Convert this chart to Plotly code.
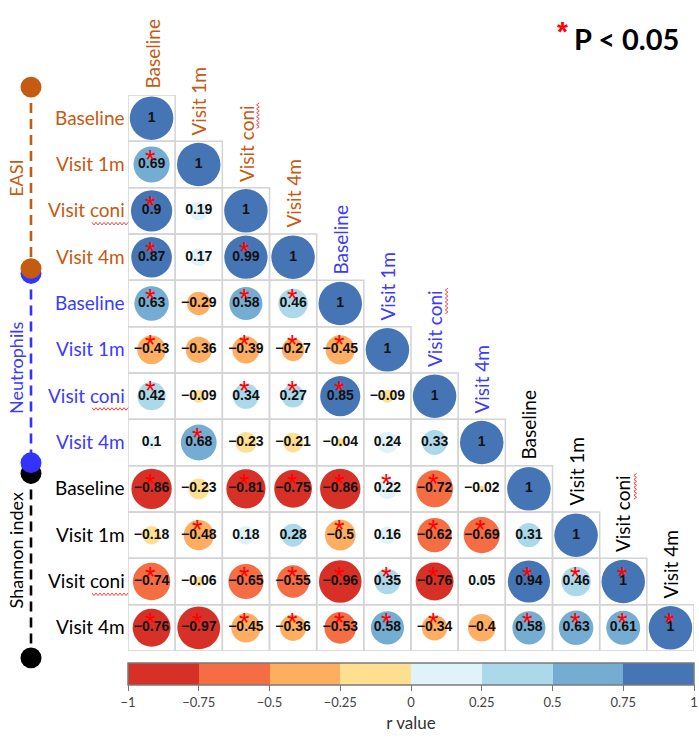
import plotly.graph_objects as go

# Variables, in row/column order of the matrix
var_labels = ["Baseline", "Visit 1m", "Visit coni", "Visit 4m"] * 3
var_group = [0] * 4 + [1] * 4 + [2] * 4
group_names = ["EASI", "Neutrophils", "Shannon index"]
group_colors = ["#C55A11", "#3B3BFF", "#000000"]
group_dot_colors = ["#C55A11", "#3333FF", "#000000"]

# Lower-triangle Pearson r values (row i holds columns 0..i)
r_rows = [
    [1],
    [0.69, 1],
    [0.9, 0.19, 1],
    [0.87, 0.17, 0.99, 1],
    [0.63, -0.29, 0.58, 0.46, 1],
    [-0.43, -0.36, -0.39, -0.27, -0.45, 1],
    [0.42, -0.09, 0.34, 0.27, 0.85, -0.09, 1],
    [0.1, 0.68, -0.23, -0.21, -0.04, 0.24, 0.33, 1],
    [-0.86, -0.23, -0.81, -0.752, -0.86, 0.22, -0.72, -0.02, 1],
    [-0.18, -0.48, 0.18, 0.28, -0.497, 0.16, -0.62, -0.69, 0.31, 1],
    [-0.74, -0.06, -0.65, -0.55, -0.96, 0.35, -0.76, 0.05, 0.94, 0.46, 1],
    [-0.76, -0.97, -0.45, -0.36, -0.53, 0.58, -0.34, -0.4, 0.58, 0.63, 0.61, 1],
]

# 1 = P < 0.05
sig_rows = [
    [0],
    [1, 0],
    [1, 0, 0],
    [1, 0, 1, 0],
    [1, 0, 1, 1, 0],
    [1, 0, 1, 1, 1, 0],
    [1, 0, 1, 1, 1, 0, 0],
    [0, 1, 0, 0, 0, 0, 0, 0],
    [1, 0, 1, 1, 1, 1, 1, 0, 0],
    [0, 1, 0, 0, 1, 0, 1, 1, 0, 0],
    [1, 0, 1, 1, 1, 1, 1, 0, 1, 1, 1],
    [1, 1, 1, 1, 1, 1, 1, 0, 1, 1, 1, 1],
]

bin_edges = [-1, -0.75, -0.5, -0.25, 0, 0.25, 0.5, 0.75, 1]
bin_colors = ["#D73027", "#F46D43", "#FDAE61", "#FEE090",
              "#E0F3F8", "#ABD9E9", "#74ADD1", "#4575B4"]

N = len(var_labels)
W, H = 699, 738
ML, MR, MT, MB = 128, 5, 95, 79
PW, PH = W - ML - MR, H - MT - MB
CW, CH = PW / N, PH / N


def px(x):
    return (x - ML) / PW


def py(y):
    return (H - MB - y) / PH


def fmt(v):
    s = f"{v:.2f}".rstrip("0").rstrip(".")
    return s.replace("-", "\u2212")


def squiggle(x0, y0, x1, y1, step=2.0, amp=1.3):
    """Small red wavy underline between two pixel points, as an SVG path in paper units."""
    import math
    length = math.hypot(x1 - x0, y1 - y0)
    ux, uy = (x1 - x0) / length, (y1 - y0) / length
    nx, ny = -uy, ux
    n = int(length / step)
    pts = []
    for k in range(n + 1):
        t = k * step
        a = amp if k % 2 else -amp
        pts.append((x0 + ux * t + nx * a, y0 + uy * t + ny * a))
    d = "M" + " L".join(f"{px(a):.5f},{py(b):.5f}" for a, b in pts)
    return dict(type="path", xref="paper", yref="paper", path=d,
                line=dict(color="#FF3B3B", width=1))


# stepped colour scale on [-1, 1]
cscale = []
for k, c in enumerate(bin_colors):
    lo = (bin_edges[k] + 1) / 2
    hi = (bin_edges[k + 1] + 1) / 2
    cscale += [[lo, c], [hi, c]]

xs, ys, vals, txt, sizes = [], [], [], [], []
for i, row in enumerate(r_rows):
    for j, v in enumerate(row):
        xs.append(j)
        ys.append(i)
        vals.append(v)
        txt.append("<b>" + fmt(v) + "</b>")
        sizes.append(43.5 * abs(v) ** 0.5)

fig = go.Figure()

fig.add_trace(go.Scatter(
    x=xs, y=ys, mode="markers",
    marker=dict(size=sizes, color=vals, colorscale=cscale, cmin=-1, cmax=1,
                line=dict(width=0), opacity=1,
                showscale=True,
                colorbar=dict(
                    orientation="h", x=0, xanchor="left", len=1, lenmode="fraction",
                    y=py(671), yanchor="top", thickness=22, xpad=0, ypad=0,
                    outlinewidth=1.5, outlinecolor="#7a7a7a",
                    ticks="outside", ticklen=6, tickwidth=1, tickcolor="#777",
                    tickvals=bin_edges,
                    ticktext=[fmt(v) for v in bin_edges],
                    tickfont=dict(family="Lato", size=13, color="#444"),
                    title=dict(text="r value", side="bottom",
                               font=dict(family="Lato", size=17, color="#333")),
                )),
    hoverinfo="skip", showlegend=False,
))

fig.add_trace(go.Scatter(
    x=xs, y=ys, mode="text", text=txt,
    textfont=dict(family="Liberation Sans, Arial", size=14, color="#111"),
    hoverinfo="skip", showlegend=False,
))

shapes = []
annotations = []

# cell borders of the lower triangle
for i in range(N):
    for j in range(i + 1):
        shapes.append(dict(type="rect", xref="x", yref="y",
                           x0=j - 0.5, x1=j + 0.5, y0=i - 0.5, y1=i + 0.5,
                           line=dict(color="#D4D4D4", width=1.5), layer="below"))

# significance stars
for i, row in enumerate(sig_rows):
    for j, s in enumerate(row):
        if s:
            annotations.append(dict(x=j, y=i, xref="x", yref="y", text="*",
                                    showarrow=False, xshift=-1, yshift=5,
                                    font=dict(family="Liberation Sans, Arial",
                                              size=27, color="#FF0000")))

# row labels (left) and column labels (above the diagonal)
for k, lab in enumerate(var_labels):
    col = group_colors[var_group[k]]
    annotations.append(dict(x=-0.5, y=k, xref="x", yref="y", text=lab,
                            xanchor="right", yanchor="middle", xshift=-1, yshift=1,
                            showarrow=False,
                            font=dict(family="Lato", size=19, color=col)))
    annotations.append(dict(x=k, y=k - 0.5, xref="x", yref="y", text=lab,
                            textangle=-90, xanchor="center", yanchor="bottom",
                            yshift=4, showarrow=False,
                            font=dict(family="Lato", size=19, color=col)))
    if lab.endswith("coni"):
        cy = MT + (k + 0.5) * CH
        shapes.append(squiggle(92, cy + 13, 128, cy + 13))
        cx = ML + (k + 0.5) * CW
        top = MT + k * CH
        shapes.append(squiggle(cx + 12, top - 86, cx + 12, top - 60))

# group brackets on the left
bracket = [(87, 271, 180), (276, 468, 372), (479, 666, 557)]
dot_r = 10.5
bx = 31
for g in [2, 1, 0]:
    y0, y1, yc = bracket[g]
    c = group_dot_colors[g]
    shapes.append(dict(type="line", xref="paper", yref="paper",
                       x0=px(bx), x1=px(bx), y0=py(y0), y1=py(y1),
                       line=dict(color=c, width=2.6, dash="10px,6px")))
    for yy in (y0, y1):
        shapes.append(dict(type="circle", xref="paper", yref="paper",
                           x0=px(bx - dot_r), x1=px(bx + dot_r),
                           y0=py(yy + dot_r), y1=py(yy - dot_r),
                           fillcolor=c, line=dict(width=0)))
for g in range(3):
    annotations.append(dict(x=px(16), y=py(bracket[g][2]), xref="paper", yref="paper",
                            text=group_names[g], textangle=-90, showarrow=False,
                            xanchor="center", yanchor="middle",
                            font=dict(family="Lato", size=18,
                                      color=group_colors[g])))

# significance key
annotations.append(dict(x=px(570), y=py(31), xref="paper", yref="paper",
                        text="<b>*</b>", showarrow=False, xanchor="right", yanchor="middle",
                        font=dict(family="Liberation Sans, Arial", size=28,
                                  color="#FF0000")))
annotations.append(dict(x=px(572), y=py(38), xref="paper", yref="paper",
                        text="<b>P &lt; 0.05</b>", showarrow=False,
                        xanchor="left", yanchor="middle",
                        font=dict(family="Lato", size=29, color="#000")))

fig.update_layout(
    width=W, height=H,
    margin=dict(l=ML, r=MR, t=MT, b=MB, pad=0),
    paper_bgcolor="white", plot_bgcolor="white",
    xaxis=dict(range=[-0.5, N - 0.5], visible=False, fixedrange=True),
    yaxis=dict(range=[N - 0.5, -0.5], visible=False, fixedrange=True),
    shapes=shapes, annotations=annotations,
)

fig.write_html("out.html")
